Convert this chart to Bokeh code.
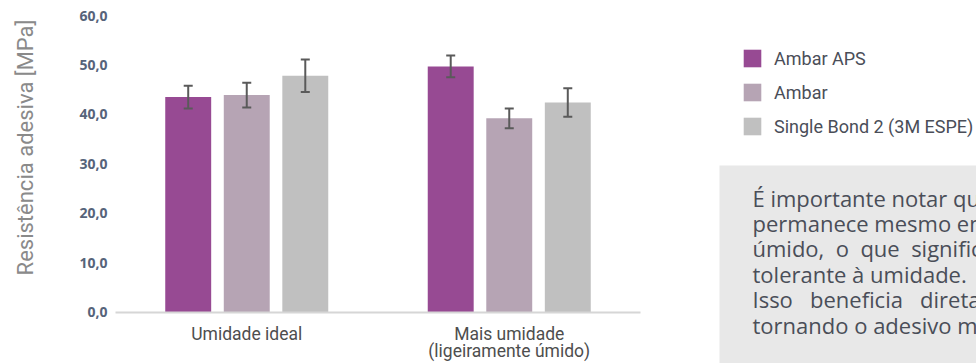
import math
from bokeh.plotting import figure
from bokeh.models import (ColumnDataSource, Whisker, TeeHead, FixedTicker,
                          Range1d, Legend, LegendItem, Label)
from bokeh.embed import file_html
from bokeh.resources import INLINE

# ---- data ----
categories = ["Umidade ideal", "Mais umidade\n(ligeiramente úmido)"]
series = ["Ambar APS", "Ambar", "Single Bond 2 (3M ESPE)"]
colors = ["#974a93", "#b6a4b4", "#c0c0c0"]
ambar_aps = [43.5, 49.7]
ambar = [43.9, 39.2]
single_bond = [47.8, 42.4]
ambar_aps_err = [2.3, 2.2]
ambar_err = [2.5, 2.0]
single_bond_err = [3.3, 2.9]
y_ticks = [0, 10, 20, 30, 40, 50, 60]
y_tick_labels = ["0,0", "10,0", "20,0", "30,0", "40,0", "50,0", "60,0"]
y_label = "Resistência adesiva [MPa]"
note_lines = [
    "É importante notar que a resistência",
    "permanece mesmo em ambiente levemente",
    "úmido,\u00a0 o\u00a0 que\u00a0 significa que o adesivo é",
    "tolerante à umidade.",
    "Isso\u00a0\u00a0 beneficia\u00a0\u00a0 diretamente o clínico,",
    "tornando o adesivo mais previsível.",
]

FONT = "Roboto"
NOTE_FONT = "Open Sans"
TXT = "#4a4e58"

# ---- layout (pixels) ----
W, H = 976, 363
AX_LEFT, AX_RIGHT = 115, 640          # plot area left/right
Y0_PX, Y60_PX = 311.5, 15             # pixel rows of y=0 and y=60
n_cat = len(categories)
px_per_cat = (AX_RIGHT - AX_LEFT) / n_cat
px_per_unit = (Y0_PX - Y60_PX) / 60.0

x_range = Range1d(-AX_LEFT / px_per_cat, (W - AX_LEFT) / px_per_cat)
y_range = Range1d(-(H - Y0_PX) / px_per_unit, 60 + Y60_PX / px_per_unit)

p = figure(x_range=x_range, y_range=y_range, width=W, height=H,
           output_backend="svg", toolbar_location=None, min_border=0)
p.outline_line_color = None
p.xgrid.visible = False
p.ygrid.visible = False

cat_pos = [i + 0.5 for i in range(n_cat)]
offsets = [-0.223, 0.0, 0.223]
vals = [ambar_aps, ambar, single_bond]
errs = [ambar_aps_err, ambar_err, single_bond_err]
items = []
for name, col, off, v, e in zip(series, colors, offsets, vals, errs):
    src = ColumnDataSource(dict(x=[c + off for c in cat_pos], val=v,
                                upper=[a + b for a, b in zip(v, e)],
                                lower=[a - b for a, b in zip(v, e)]))
    r = p.vbar(x="x", top="val", width=0.175, source=src, fill_color=col, line_color=None)
    items.append(LegendItem(label=name, renderers=[r]))
    w = Whisker(base="x", upper="upper", lower="lower", source=src,
                line_color="#5a5a5a", line_width=2, level="annotation",
                upper_head=TeeHead(size=9, line_color="#5a5a5a", line_width=2),
                lower_head=TeeHead(size=9, line_color="#5a5a5a", line_width=2))
    p.add_layout(w)

# x axis drawn at y = 0, spanning only the categories
xa = p.xaxis[0]
xa.fixed_location = 0
xa.bounds = (0, n_cat)
xa.ticker = FixedTicker(ticks=cat_pos)
xa.major_label_overrides = dict(zip(cat_pos, categories))
xa.axis_line_color = "#d6d6d6"
xa.axis_line_width = 2
xa.major_tick_line_color = None
xa.major_tick_out = 0
xa.minor_tick_line_color = None
xa.major_label_text_font = FONT
xa.major_label_text_font_size = "17.5px"
xa.major_label_text_line_height = 0.83
xa.major_label_text_color = "#4e4e4e"
xa.major_label_standoff = 12

# y axis drawn at x = 0
ya = p.yaxis[0]
ya.fixed_location = 0
ya.axis_line_color = None
ya.major_tick_line_color = None
ya.major_tick_out = 0
ya.minor_tick_line_color = None
ya.ticker = FixedTicker(ticks=y_ticks)
ya.major_label_overrides = dict(zip(y_ticks, y_tick_labels))
ya.major_label_text_font = "Noto Sans"
ya.major_label_text_font_style = "bold"
ya.major_label_text_font_size = "14px"
ya.major_label_text_color = "#56647a"
ya.major_label_standoff = 8

# rotated y-axis title
p.add_layout(Label(x=25, y=H - 147, x_units="screen", y_units="screen", text=y_label,
                   angle=math.pi / 2, text_align="center", text_baseline="middle",
                   text_font=FONT, text_font_size="22px", text_color="#8a8a8a"))

# legend to the right of the plot area
legend = Legend(items=items, location=(741, H - 137), orientation="vertical",
                glyph_width=22, glyph_height=22, label_height=22, spacing=12, padding=0,
                margin=0, label_standoff=11, border_line_color=None, background_fill_alpha=0,
                label_text_font=FONT, label_text_font_size="18px", label_text_color=TXT,
                click_policy="none")
p.add_layout(legend)

# note box (box top-left at 719,165; padding = left, right, top, bottom)
p.add_layout(Label(x=719, y=H - 165, x_units="screen", y_units="screen",
                   text="\n".join(note_lines), text_align="left", text_baseline="top",
                   text_font=NOTE_FONT, text_font_size="22px", text_line_height=0.849,
                   text_color=TXT, background_fill_color="#e8e8e8",
                   padding=(33, 300, 17, 120)))

open("out.html", "w").write(file_html(p, INLINE))
